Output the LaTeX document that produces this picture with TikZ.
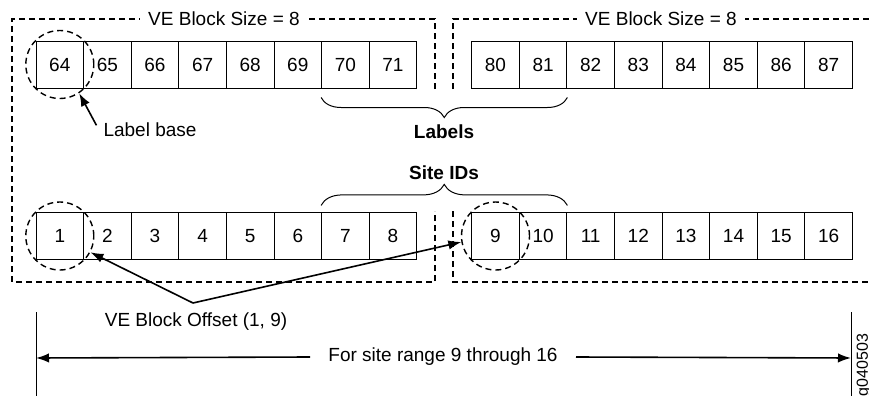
\documentclass[tikz,border=0pt]{standalone}
\usepackage{fontspec}
\setmainfont{Liberation Sans}
\usetikzlibrary{arrows.meta,positioning,decorations.pathreplacing}

\begin{document}
\begin{tikzpicture}[
  x=0.5pt, y=-0.5pt,
  font=\fontsize{9.5}{11}\selectfont,
  cell/.style={draw,line width=0.5pt,minimum width=23.8pt,minimum height=23.5pt,inner sep=0pt},
  ring/.style={draw,circle,dash pattern=on 3pt off 2pt,line width=0.7pt,minimum size=34pt,inner sep=0pt},
  grp/.style={dash pattern=on 3pt off 2pt,line width=0.7pt},
  ttl/.style={fill=white,inner xsep=4pt,inner ysep=1pt},
  brc/.style={decorate,line width=0.5pt},
  arr/.style={-{Latex[length=6.5pt,width=4.7pt]},line width=0.8pt}
]
\useasboundingbox (0,0) rectangle (869,396);
% VE blocks, open where the braces cross
\draw[grp] (435,89) -- (435,19) -- (12,19) -- (12,282) -- (435,282) -- (435,211);
\draw[grp] (453,89) -- (453,19) -- (869,19);
\draw[grp] (453,211) -- (453,282) -- (869,282);
\node[ttl] (szL) at (224,19) {VE Block Size = 8};
\node[ttl] (szR) at (661,19) {VE Block Size = 8};
% label cells
\foreach \n [count=\k from 0] in {64,...,71}
  \node[cell] (c\n) at ({59.8+47.6*\k},64.5) {\n};
\foreach \n [count=\k from 0] in {80,...,87}
  \node[cell] (c\n) at ({495.5+47.6*\k},64.5) {\n};
% site cells
\foreach \n [count=\k from 0] in {1,...,8}
  \node[cell] (s\n) at ({59.8+47.6*\k},236) {\n};
\foreach \n [count=\k from 0] in {9,...,16}
  \node[cell] (s\n) at ({495.5+47.6*\k},236) {\n};
\node[ring] (r64) at (c64) {};
\node[ring] (r1) at (s1) {};
\node[ring] (r9) at (s9) {};
% braces
\draw[brc,decoration={brace,mirror,amplitude=10pt}]
  ([yshift=-4.5pt]c70.south west) -- ([yshift=-4.5pt]c81.south east);
\node (lbls) at (444,132) {\bfseries Labels};
\draw[brc,decoration={brace,amplitude=10.5pt}]
  ([yshift=3.3pt]s7.north west) -- ([yshift=3.3pt]s10.north east);
\node (sids) at (444,173) {\bfseries Site IDs};
% label base
\node (lbase) at (150,130) {Label base};
\draw[arr] (lbase.175) -- (r64.-56);
% offsets
\node (voff) at (196,322) {VE Block Offset (1, 9)};
\coordinate (vtx) at (193,303);
\draw[arr] (vtx) -- (r1.-28);
\draw[arr] (vtx) -- (r9.190);
% site range
\draw[line width=0.5pt] (36,312) -- (36,396);
\draw[line width=0.5pt] (851,312) -- (851,396);
\coordinate (rl) at (36,358);
\coordinate (rr) at (851,358);
\node[inner xsep=9pt] (rng) at (443,357) {For site range 9 through 16};
\draw[arr] (rng.west) -- (rl);
\draw[arr] (rng.east) -- (rr);
\node[rotate=90,font=\fontsize{8}{9}\selectfont] (fig) at (864,365) {g040503};
\end{tikzpicture}
\end{document}
